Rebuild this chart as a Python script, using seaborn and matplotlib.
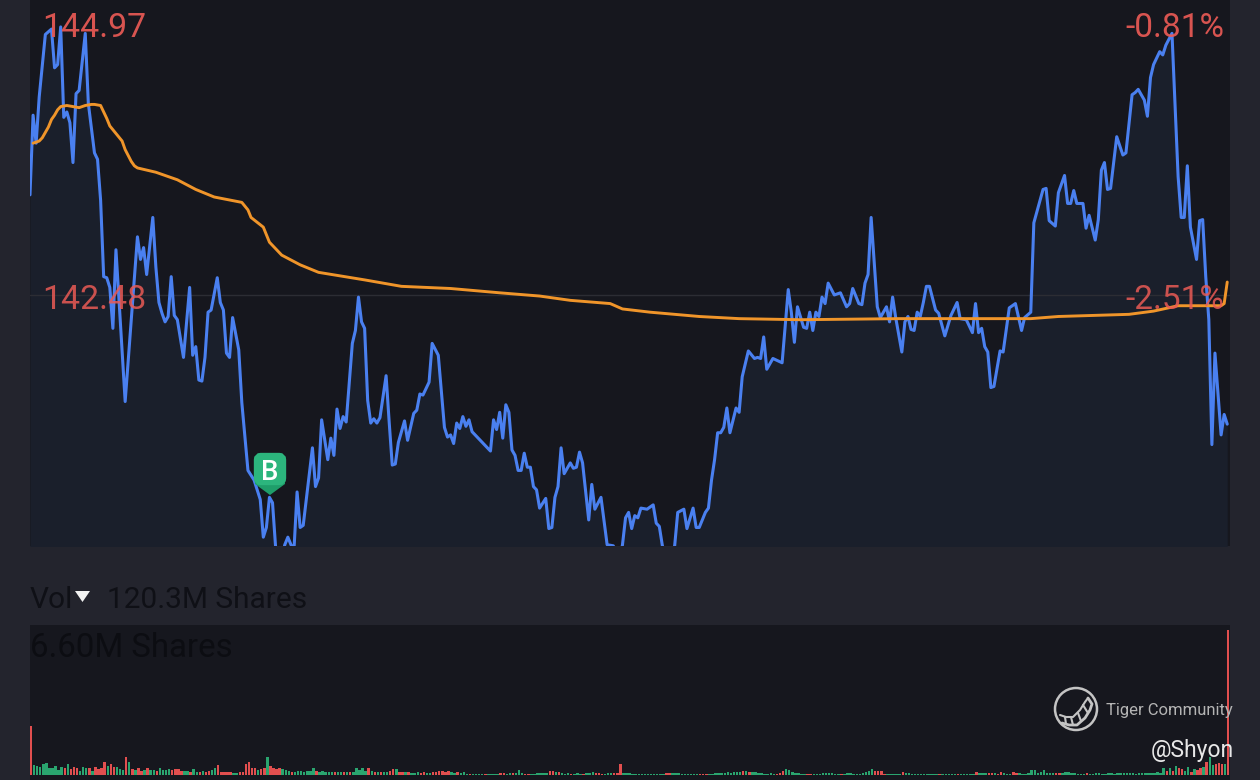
import numpy as np
import pandas as pd
import seaborn as sns
import matplotlib.pyplot as plt
from matplotlib.patches import Circle, FancyBboxPatch, Polygon

# price line, minute of session and price
price_minutes = [0,1,2,3,5,7,8,9,10,11,12,13,14,15,16,18,19,21,22,23,24,25,26,27,28,31,35,36,37,38,40,41,42,43,44,45,46,47,48,50,
    52,53,54,55,56,57,58,59,61,62,63,64,65,66,68,69,71,73,75,76,77,78,79,80,82,83,84,85,86,87,88,89,92,93,94,95,97,98,99,100,
    101,102,103,105,106,107,108,109,110,111,112,113,114,116,117,118,119,120,122,123,125,126,127,128,130,131,133,135,136,137,138,139,140,141,142,143,144,150,151,152,
    153,154,155,156,157,158,159,160,161,162,163,164,165,166,168,169,170,171,172,173,174,176,177,178,179,180,182,183,184,186,188,190,192,193,194,195,196,197,198,199,
    201,203,204,205,206,208,210,211,213,214,216,217,218,220,221,222,223,224,225,226,227,228,230,231,232,234,236,237,238,239,240,242,245,247,248,249,250,252,253,254,
    255,256,257,258,259,260,262,264,266,267,268,270,271,272,273,274,275,276,277,279,280,281,282,284,285,286,287,288,289,290,291,292,293,295,296,298,300,302,303,305,
    307,308,309,310,311,312,313,314,316,317,319,320,321,323,324,326,327,330,331,332,334,335,337,338,339,340,341,343,344,345,347,348,349,350,351,352,354,356,357,359,
    360,361,363,364,365,366,368,369,370,372,374,375,376,377,378,380,381,382,383,384,385,386,388,389,390]
prices = [143.41,144.15,143.89,144.32,144.90,144.95,144.59,144.62,144.97,144.13,144.18,144.08,143.71,144.35,144.38,144.91,144.26,143.80,143.74,143.36,142.65,142.64,142.55,142.17,142.90,141.49,143.02,142.81,142.92,142.67,143.20,142.74,142.41,142.31,142.23,142.28,142.65,142.29,142.25,141.90,
    142.55,141.92,142.00,141.69,141.68,141.90,142.32,142.34,142.64,142.41,142.34,141.94,141.90,142.27,141.97,141.48,140.85,140.76,140.58,140.23,140.32,140.60,140.55,140.14,140.02,140.16,140.23,140.16,140.12,140.65,140.32,140.34,141.06,140.70,140.78,141.32,140.95,141.15,140.99,141.42,
    141.24,141.35,141.30,142.03,142.15,142.46,142.23,142.17,141.50,141.29,141.33,141.29,141.34,141.73,141.30,140.90,140.91,141.11,141.31,141.13,141.38,141.41,141.56,141.55,141.67,142.03,141.92,141.25,141.16,141.18,141.10,141.29,141.24,141.35,141.26,141.32,141.21,141.03,141.32,141.23,
    141.39,141.15,141.46,141.39,141.04,140.99,140.85,140.85,141.01,140.88,140.88,140.70,140.67,140.50,140.59,140.31,140.32,140.60,140.70,141.06,140.82,140.92,140.87,140.88,141.02,140.92,140.39,140.72,140.49,140.60,140.16,140.15,140.00,140.16,140.41,140.46,140.31,140.43,140.41,140.50,
    140.49,140.53,140.36,140.33,140.15,140.00,140.15,140.46,140.49,140.31,140.50,140.32,140.32,140.46,140.50,140.76,140.95,141.20,141.20,141.25,141.43,141.20,141.43,141.39,141.72,141.96,141.89,141.90,141.89,142.09,141.79,141.89,141.85,142.53,142.32,142.04,142.37,142.18,142.17,142.32,
    142.15,142.32,142.28,142.46,142.40,142.59,142.48,142.50,142.37,142.40,142.54,142.40,142.39,142.59,142.67,143.20,142.78,142.37,142.27,142.37,142.23,142.46,142.27,141.95,142.23,142.28,142.16,142.15,142.32,142.28,142.41,142.56,142.56,142.34,142.31,142.10,142.29,142.41,142.26,142.25,
    142.13,142.40,142.13,142.17,142.00,141.95,141.62,141.63,141.96,141.95,142.36,142.38,142.40,142.15,142.27,142.32,143.15,143.46,143.47,143.17,143.12,143.43,143.59,143.33,143.33,143.45,143.33,143.33,143.10,143.22,142.99,143.18,143.64,143.71,143.46,143.47,143.95,143.78,143.80,144.34,
    144.36,144.39,144.29,144.14,144.50,144.62,144.74,144.71,144.80,144.91,143.58,143.20,143.20,143.68,143.11,142.81,143.17,143.18,142.65,142.25,141.09,141.94,141.18,141.37,141.28]

# average price line
avg_minutes = [1,3,4,6,7,8,9,10,12,16,18,20,21,23,24,25,26,28,30,31,33,34,35,41,48,54,60,69,71,72,76,78,80,82,88,94,109,121,137,153,166,176,189,193,202,218,231,251,283,316,326,335,358,366,374,388,389,390]
avg_prices = [143.89,143.91,143.94,144.04,144.11,144.15,144.20,144.23,144.24,144.22,144.24,144.25,144.25,144.24,144.18,144.12,144.05,143.98,143.91,143.83,143.72,143.68,143.66,143.62,143.55,143.46,143.39,143.34,143.27,143.20,143.11,142.97,142.91,142.85,142.76,142.69,142.62,142.56,142.54,142.50,142.47,142.43,142.40,142.35,142.32,142.28,142.26,142.25,142.26,142.26,142.26,142.28,142.30,142.33,142.38,142.38,142.40,142.60]

# volume per minute, millions of shares
volumes = [2.25,.45,.42,.38,.48,.54,.33,.30,.40,.21,
    .38,.33,.48,.27,.35,.30,.18,.35,.30,.30,
    .20,.37,.27,.33,.60,.40,.50,.36,.36,.27,
    .23,.83,.60,.27,.23,.30,.20,.23,.33,.22,
    .22,.20,.30,.21,.24,.28,.22,.27,.25,.18,
    .20,.18,.15,.25,.15,.13,.17,.13,.20,.22,
    .30,.45,.15,.12,.12,.12,.10,.10,.12,.15,
    .50,.58,.30,.30,.22,.27,.33,.83,.40,.30,
    .25,.33,.28,.22,.18,.15,.15,.18,.20,.15,
    .18,.20,.30,.20,.15,.18,.15,.15,.12,.13,
    .12,.15,.13,.13,.12,.15,.33,.22,.30,.20,
    .33,.20,.15,.15,.12,.15,.12,.20,.28,.25,
    .13,.12,.12,.12,.10,.10,.13,.10,.12,.10,
    .10,.12,.13,.20,.18,.15,.18,.13,.10,.15,
    .08,.13,.06,.06,.05,.06,.05,.05,.06,.06,
    .06,.05,.06,.08,.07,.06,.08,.08,.10,.22,
    .07,.06,.05,.05,.05,.08,.08,.10,.08,.20,
    .20,.12,.12,.10,.06,.10,.06,.06,.07,.05,
    .06,.07,.10,.12,.08,.07,.05,.06,.10,.10,
    .10,.10,.48,.10,.09,.07,.06,.05,.05,.05,
    .05,.05,.05,.05,.05,.05,.06,.08,.08,.10,
    .09,.07,.06,.06,.06,.06,.06,.05,.05,.05,
    .05,.05,.05,.07,.10,.11,.10,.13,.10,.13,
    .15,.13,.17,.18,.15,.12,.12,.10,.08,.06,
    .06,.07,.06,.06,.08,.16,.28,.22,.13,.09,
    .07,.06,.05,.05,.05,.05,.05,.05,.07,.08,
    .08,.07,.06,.05,.05,.06,.07,.08,.06,.06,
    .06,.08,.14,.16,.27,.18,.20,.18,.06,.05,
    .05,.05,.06,.05,.15,.10,.08,.05,.05,.04,
    .04,.05,.04,.04,.06,.04,.05,.04,.05,.04,
    .04,.04,.04,.04,.05,.05,.05,.05,.15,.08,
    .08,.09,.08,.10,.07,.06,.13,.08,.06,.05,
    .12,.08,.08,.06,.06,.07,.24,.22,.10,.13,
    .22,.10,.08,.08,.08,.10,.10,.15,.15,.07,
    .07,.06,.06,.05,.07,.05,.05,.08,.08,.05,
    .05,.11,.07,.05,.10,.07,.11,.11,.10,.08,
    .06,.08,.08,.10,.10,.07,.11,.14,.10,.33,
    .20,.30,.20,.42,.30,.28,.18,.38,.15,.25,
    .22,.30,.38,.60,.82,.45,.50,.55,.48,.50,
    6.60]
directions = ("rggggggggg" "grgrrrgggr" "grrrrgrrgg" "grgrgrrgrg" "grggggrrrr"
    "ggrggrgrrg" "grrrrrggrr" "rrrrgrrgrr" "rrgggrgggg" "gggrgggggr"
    "ggrgrggggg" "rgrgrggrrg" "rrgrgggrrg" "grrrrrrggr" "gggrggggrg"
    "gggrrggrgg" "grrggggggr" "rgrgggrggg" "rgggrrrggg" "rrrggggggg"
    "gggggggrrg" "ggggggggrr" "rggggggggg" "ggrgrggggg" "gggrrrgggg"
    "gggrrggggg" "ggggrggggg" "gggggrrrrg" "ggggrggggg" "ggggggrggg"
    "ggrgggggrg" "ggrrgrrggg" "rrgggggggg" "ggggrrgggg" "ggggrggggg"
    "gggggggggg" "gggggggggg" "rgrgrrggrg" "rrgrggrrrg" "r")

price_df = pd.DataFrame({'minute': price_minutes, 'price': prices})
avg_df = pd.DataFrame({'minute': avg_minutes, 'price': avg_prices})
vol_df = pd.DataFrame({'minute': np.arange(len(volumes)), 'volume': volumes, 'direction': list(directions)})

sns.set_style('dark')
plt.rcParams['font.family'] = ['Roboto', 'DejaVu Sans']

bg = '#23242d'
pane = '#16171e'
red = '#ea5a55'

fig = plt.figure(figsize=(12.6, 7.8), dpi=100, facecolor=bg)

# price panel
ax = fig.add_axes([30 / 1260, 234 / 780, 1200 / 1260, 546 / 780], facecolor=pane)
ax.fill_between(price_df['minute'], price_df['price'], 140.0, color='#1a1f2b', lw=0)
ax.axhline(142.48, color='#2c2d34', lw=1)
sns.lineplot(data=price_df, x='minute', y='price', color='#4a80f0', lw=2.2, estimator=None, sort=False, ax=ax, zorder=3)
sns.lineplot(data=avg_df, x='minute', y='price', color='#f0952a', lw=2.1, estimator=None, sort=False, ax=ax, zorder=4)
ax.set_xlim(0, 390.9)
ax.set_ylim(140.148, 145.22)
ax.set_xticks([])
ax.set_yticks([])
ax.set_xlabel('')
ax.set_ylabel('')
sns.despine(ax=ax, left=True, bottom=True)

# volume panel
ax2 = fig.add_axes([30 / 1260, 0, 1200 / 1260, 155 / 780], facecolor=pane)
sns.barplot(data=vol_df, x='minute', y='volume', hue='direction', palette={'r': '#e24f4f', 'g': '#2aa56f'},
            native_scale=True, dodge=False, width=0.8, saturation=1, linewidth=0, legend=False, ax=ax2)
ax2.set_xlim(-0.33, 390.6)
ax2.set_ylim(-0.23, 6.83)
ax2.set_xticks([])
ax2.set_yticks([])
ax2.set_xlabel('')
ax2.set_ylabel('')
sns.despine(ax=ax2, left=True, bottom=True)

# everything else sits on a pixel sized overlay
top = fig.add_axes([0, 0, 1, 1], facecolor='none')
top.set_xlim(0, 1260)
top.set_ylim(780, 0)
top.axis('off')

top.text(42, 28, '144.97', color=red, fontsize=24.4, ha='left', va='center', alpha=0.92, zorder=7)
top.text(42, 300, '142.48', color=red, fontsize=24.4, ha='left', va='center', alpha=0.85, zorder=7)
top.text(1224, 28, '-0.81%', color=red, fontsize=24, ha='right', va='center', alpha=0.92, zorder=7)
top.text(1224, 300, '-2.51%', color=red, fontsize=24, ha='right', va='center', alpha=0.85, zorder=7)

top.text(30, 600, 'Vol', color='#0f1016', fontsize=21.5, ha='left', va='center')
top.text(107, 600, '120.3M Shares', color='#0f1016', fontsize=21.5, ha='left', va='center')
top.text(30, 648, '6.60M Shares', color='#0c0d12', fontsize=23.8, ha='left', va='center')
top.add_patch(Polygon([(75, 591), (90, 591), (82.5, 602)], closed=True, color='#f2f2f2', lw=0))

# buy marker
top.add_patch(Polygon([(255, 478), (285, 478), (285, 484), (270, 495), (255, 484)], closed=True, color='#1f9e6a', lw=0, zorder=5))
top.add_patch(FancyBboxPatch((258, 457), 24, 24, boxstyle='round,pad=0,rounding_size=3', mutation_aspect=1,
                             fc='#2cb57d', ec='#2cb57d', lw=6, zorder=5))
top.text(270, 473, 'B', color='white', fontsize=20, fontweight='medium', ha='center', va='center', zorder=6)

# watermark
logo = '#c4c4c4'
top.add_patch(Circle((1076, 709), 21, fc='none', ec=logo, lw=1.8, zorder=6))
top.plot([1060, 1066, 1073, 1080, 1085, 1088], [715, 717, 717, 710, 702, 698], color=logo, lw=1.5, zorder=6)
top.plot([1062, 1069, 1077, 1085, 1090, 1092, 1088], [723, 725, 725, 718, 710, 704, 698], color=logo, lw=2, zorder=6)
for x0, y0, x1, y1 in [(1065, 717, 1066, 724), (1071, 717, 1073, 725), (1078, 713, 1081, 721), (1083, 705, 1088, 713)]:
    top.plot([x0, x1], [y0, y1], color=logo, lw=1.5, zorder=6)
top.text(1106, 710, 'Tiger Community', color='#b4b4b4', fontsize=12, ha='left', va='center', zorder=6)
top.text(1151, 751, '@Shyon', color='#e8e8e8', fontsize=16.5, ha='left', va='center', zorder=6)

fig.savefig('out.png', dpi=100, facecolor=bg)
